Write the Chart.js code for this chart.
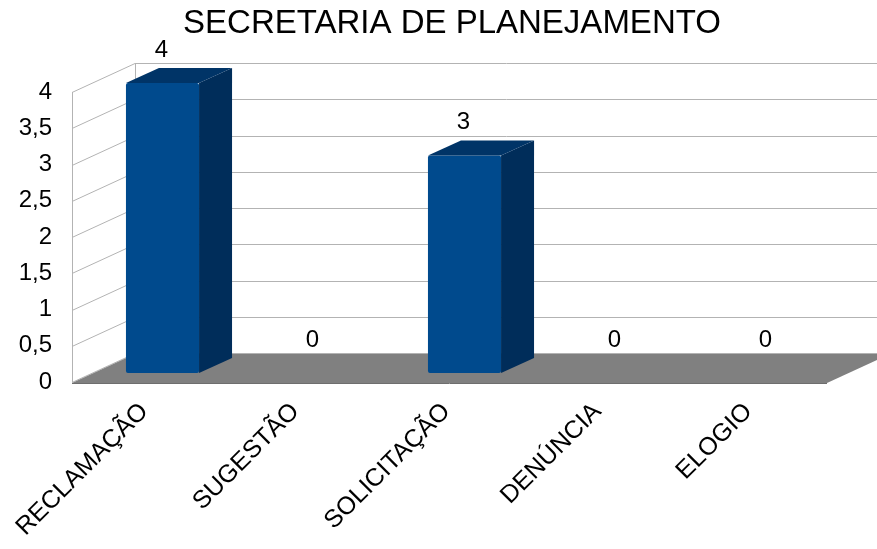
<!DOCTYPE html>
<html>
<head>
<meta charset="utf-8">
<script src="https://cdn.jsdelivr.net/npm/chart.js@4.4.1/dist/chart.umd.min.js"></script>
<style>
  html, body { margin: 0; padding: 0; background: #fff; }
  #wrap { width: 877px; height: 549px; }
</style>
</head>
<body>
<div id="wrap"><canvas id="chart" width="877" height="549"></canvas></div>
<script>
// data
const categories = ['RECLAMAÇÃO', 'SUGESTÃO', 'SOLICITAÇÃO', 'DENÚNCIA', 'ELOGIO'];
const values = [4, 0, 3, 0, 0];
const chartTitle = 'SECRETARIA DE PLANEJAMENTO';
const yMin = 0;
const yMax = 4;
const yStep = 0.5;

// fake 3D box geometry (pixels)
const WALL = { dx: 63, dy: -29 };      // back wall offset from front plane
const SHIFT = { dx: 15, dy: -9 };      // bar front face sits a bit inside the box
const BAR_DEPTH = { dx: 33, dy: -15 };

const FONT = 'Liberation Sans, Arial, sans-serif';
const GRID = '#b3b3b3';

const box3d = {
  id: 'box3d',
  beforeDatasetsDraw(chart) {
    const { ctx, chartArea: a, scales } = chart;
    const y = scales.y;
    ctx.save();
    ctx.strokeStyle = GRID;
    ctx.lineWidth = 1;
    // walls: side lines + back grid
    y.ticks.forEach(t => {
      const py = Math.round(y.getPixelForValue(t.value)) + 0.5;
      ctx.beginPath();
      ctx.moveTo(a.left, py);
      ctx.lineTo(a.left + WALL.dx, py + WALL.dy);
      ctx.lineTo(chart.width + 20, py + WALL.dy);
      ctx.stroke();
    });
    ctx.beginPath();
    ctx.moveTo(a.left + 0.5, a.top);
    ctx.lineTo(a.left + 0.5, a.bottom);
    ctx.moveTo(a.left + WALL.dx + 0.5, a.top + WALL.dy);
    ctx.lineTo(a.left + WALL.dx + 0.5, a.bottom + WALL.dy);
    ctx.stroke();
    // floor
    ctx.fillStyle = '#808080';
    ctx.beginPath();
    ctx.moveTo(a.left, a.bottom + 1);
    ctx.lineTo(a.right, a.bottom + 1);
    ctx.lineTo(a.right + WALL.dx, a.bottom + 1 + WALL.dy);
    ctx.lineTo(a.left + WALL.dx, a.bottom + 1 + WALL.dy);
    ctx.closePath();
    ctx.fill();
    ctx.strokeStyle = '#6e6e6e';
    ctx.beginPath();
    ctx.moveTo(a.left, a.bottom + 1.5);
    ctx.lineTo(a.right, a.bottom + 1.5);
    ctx.stroke();
    ctx.restore();
    // front faces drawn by chart.js, pushed into the box
    ctx.save();
    ctx.translate(SHIFT.dx, SHIFT.dy);
  },
  afterDatasetsDraw(chart) {
    const { ctx } = chart;
    ctx.restore();
    const meta = chart.getDatasetMeta(0);
    ctx.save();
    meta.data.forEach((el, i) => {
      const left = el.x - el.width / 2 + SHIFT.dx;
      const right = el.x + el.width / 2 + SHIFT.dx;
      const top = el.y + SHIFT.dy;
      const bottom = el.base + SHIFT.dy;
      if (values[i] > 0) {
        // side
        ctx.fillStyle = '#002d5a';
        ctx.beginPath();
        ctx.moveTo(right, top);
        ctx.lineTo(right + BAR_DEPTH.dx, top + BAR_DEPTH.dy);
        ctx.lineTo(right + BAR_DEPTH.dx, bottom + BAR_DEPTH.dy);
        ctx.lineTo(right, bottom);
        ctx.closePath();
        ctx.fill();
        // top
        ctx.fillStyle = '#003467';
        ctx.beginPath();
        ctx.moveTo(left, top);
        ctx.lineTo(left + BAR_DEPTH.dx, top + BAR_DEPTH.dy);
        ctx.lineTo(right + BAR_DEPTH.dx, top + BAR_DEPTH.dy);
        ctx.lineTo(right, top);
        ctx.closePath();
        ctx.fill();
      }
      // value label
      ctx.fillStyle = '#000';
      ctx.font = '24px ' + FONT;
      ctx.textAlign = 'center';
      ctx.textBaseline = 'middle';
      ctx.fillText(String(values[i]), el.x + SHIFT.dx - 1, top + BAR_DEPTH.dy - 18);
    });
    ctx.restore();
  },
  afterDraw(chart) {
    const { ctx } = chart;
    ctx.save();
    ctx.fillStyle = '#000';
    ctx.font = '33px ' + FONT;
    ctx.textAlign = 'center';
    ctx.textBaseline = 'alphabetic';
    ctx.fillText(chartTitle, 452, 33);
    ctx.restore();
  }
};

new Chart(document.getElementById('chart'), {
  type: 'bar',
  data: {
    labels: categories,
    datasets: [{
      data: values,
      backgroundColor: '#004a8d',
      borderWidth: 0,
      borderRadius: 2,
      borderSkipped: false,
      categoryPercentage: 1,
      barPercentage: 0.484,
      clip: false
    }]
  },
  options: {
    responsive: false,
    animation: false,
    devicePixelRatio: 1,
    layout: { padding: { top: 92, right: 50, left: 0, bottom: 0 } },
    plugins: {
      legend: { display: false },
      title: { display: false },
      tooltip: { enabled: false }
    },
    scales: {
      y: {
        min: yMin,
        max: yMax,
        grid: { display: false, drawTicks: false },
        border: { display: false },
        ticks: {
          stepSize: yStep,
          padding: 20,
          color: '#000',
          font: { family: FONT, size: 24 },
          callback: v => String(v).replace('.', ',')
        },
        afterFit: s => { s.width = 72; }
      },
      x: {
        grid: { display: false, drawTicks: false },
        border: { display: false },
        ticks: {
          autoSkip: false,
          minRotation: 45,
          maxRotation: 45,
          padding: 15,
          labelOffset: -3,
          color: '#000',
          font: { family: FONT, size: 25 }
        },
        afterFit: s => { s.height = 167; }
      }
    }
  },
  plugins: [box3d]
});
</script>
</body>
</html>
